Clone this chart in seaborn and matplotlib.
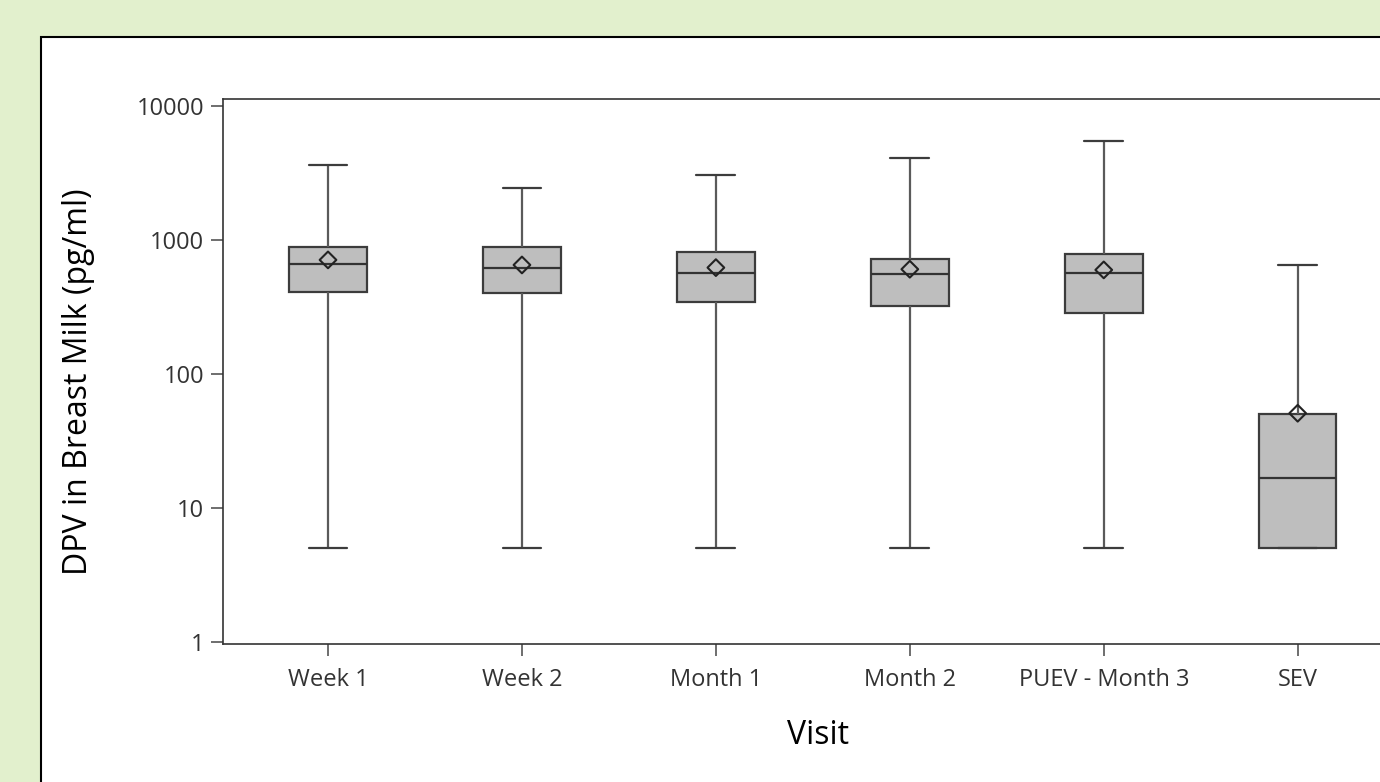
import numpy as np
import pandas as pd
import seaborn as sns
import matplotlib.pyplot as plt
from matplotlib.patches import Rectangle

visits = ["Week 1", "Week 2", "Month 1", "Month 2", "PUEV - Month 3", "SEV"]
whisker_low = [5, 5, 5, 5, 5, 5]
q1 = [411, 400, 343, 321, 286, 5]
median = [659, 615, 564, 554, 567, 16.8]
q3 = [891, 882, 818, 725, 782, 49.9]
whisker_high = [3631, 2432, 3055, 4074, 5486, 650]
mean = [709, 650, 621, 604, 597, 50.8]
ytick_values = [1, 10, 100, 1000, 10000]
ytick_labels = ["1", "10", "100", "1000", "10000"]

rows = []
for i, v in enumerate(visits):
    for val in (whisker_low[i], q1[i], median[i], q3[i], whisker_high[i]):
        rows.append({"Visit": v, "DPV": val})
df = pd.DataFrame(rows)

sns.set_theme(style="white")
plt.rcParams["font.family"] = ["Open Sans", "DejaVu Sans"]

W, H = 1380, 782
fig = plt.figure(figsize=(W / 100, H / 100), dpi=100)
fig.patch.set_facecolor("#e2f0cd")

panel = Rectangle((40.5 / W, -0.1), 1.2, 1 - 36.5 / H + 0.1, transform=fig.transFigure,
                  facecolor="white", edgecolor="black", linewidth=1.5, zorder=-10)
fig.patches.append(panel)

left, right, bottom, top = 222.7, 1403, 644, 99
ax = fig.add_axes([left / W, 1 - bottom / H, (right - left) / W, (bottom - top) / H])
ax.set_zorder(5)
ax.set_facecolor("white")

sns.boxplot(data=df, x="Visit", y="DPV", order=visits, whis=(0, 100), width=0.40,
            color="#bebebe", saturation=1, linecolor="#3c3c3c", linewidth=1.6,
            showfliers=False, log_scale=True, ax=ax,
            whiskerprops={"color": "#5a5a5a"}, capprops={"color": "#3c3c3c"},
            medianprops={"color": "#333333"})

mdf = pd.DataFrame({"Visit": visits, "Mean": mean})
n_before = len(ax.collections)
sns.stripplot(data=mdf, x="Visit", y="Mean", order=visits, jitter=False, marker="D",
              size=8.5, color="white", edgecolor="#222222", linewidth=1.5, ax=ax)
for c in ax.collections[n_before:]:
    c.set_facecolor("none")
    c.set_zorder(5)

ax.set_yscale("log")
ax.set_ylim(10 ** -0.017, 10 ** 4.052)
ax.set_xlim(-0.543, 5.543)
ax.set_yticks(ytick_values)
ax.set_yticklabels(ytick_labels)
ax.yaxis.set_minor_locator(plt.NullLocator())

ax.tick_params(axis="both", which="major", length=8.5, width=1.2, color="#555555",
               labelsize=17, labelcolor="#333333", direction="out", bottom=True, left=True)
ax.tick_params(axis="y", pad=5)
ax.tick_params(axis="x", pad=9)

for s in ["left", "bottom", "top", "right"]:
    ax.spines[s].set_color("#333333")
    ax.spines[s].set_linewidth(1.2)

ax.set_xlabel("Visit", fontsize=23, color="black")
ax.set_ylabel("DPV in Breast Milk (pg/ml)", fontsize=23, color="black")
ax.xaxis.set_label_coords((818 - left) / (right - left), -(735 - bottom) / (bottom - top))
ax.yaxis.set_label_coords(-(left - 79) / (right - left), (bottom - 382) / (bottom - top))
ax.xaxis.label.set_va("center")
ax.yaxis.label.set_va("center")

fig.savefig("out.png", dpi=100, facecolor=fig.get_facecolor())
